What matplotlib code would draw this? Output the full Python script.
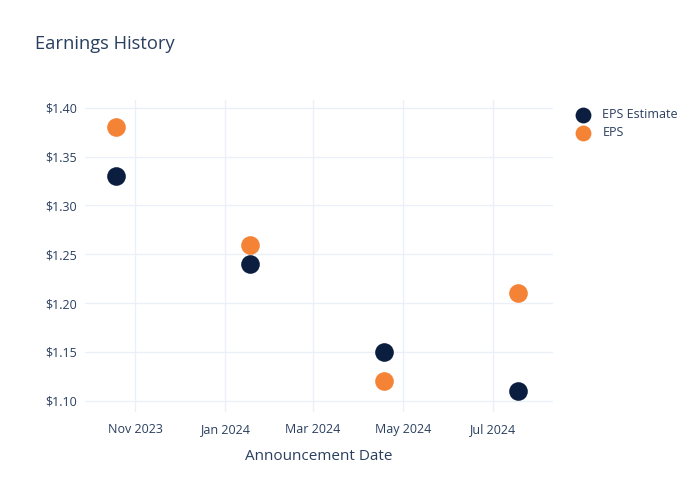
import datetime as dt
import matplotlib
matplotlib.use('Agg')
from matplotlib import pyplot as plt
import matplotlib.dates as mdates
from matplotlib.ticker import FuncFormatter

# data
dates = [dt.date(2023, 10, 19), dt.date(2024, 1, 18), dt.date(2024, 4, 18), dt.date(2024, 7, 18)]
eps_estimate = [1.33, 1.24, 1.15, 1.11]
eps_actual = [1.38, 1.26, 1.12, 1.21]
tick_dates = [dt.date(2023, 11, 1), dt.date(2024, 1, 1), dt.date(2024, 3, 1), dt.date(2024, 5, 1), dt.date(2024, 7, 1)]
y_ticks = [1.10, 1.15, 1.20, 1.25, 1.30, 1.35, 1.40]

plt.rcParams['font.family'] = ['Open Sans', 'DejaVu Sans']
txt = '#2a3f5f'
grid_c = '#ebf0f8'

fig = plt.figure(figsize=(7, 5), dpi=100)
ax = fig.add_axes([85/700, 88/500, 468/700, 312/500])

ax.scatter(dates, eps_estimate, s=180, color='#0c1e40', label='EPS Estimate', zorder=3, linewidths=0)
ax.scatter(dates, eps_actual, s=180, color='#f58335', label='EPS', zorder=3, linewidths=0)

ax.set_xlim(dt.date(2023, 9, 28), dt.date(2024, 8, 11))
ax.set_ylim(1.0885, 1.408)
ax.set_xticks(tick_dates)
ax.xaxis.set_major_formatter(mdates.DateFormatter('%b %Y'))
ax.set_yticks(y_ticks)
ax.yaxis.set_major_formatter(FuncFormatter(lambda v, p: '$%.2f' % v))
ax.grid(True, color=grid_c, linewidth=1)
ax.set_axisbelow(True)
for s in ax.spines.values():
    s.set_visible(False)
ax.tick_params(axis='x', length=0, pad=8, labelsize=9, colors=txt)
ax.tick_params(axis='y', length=0, pad=6, labelsize=9, colors=txt)
ax.set_xlabel('Announcement Date', fontsize=11, color=txt, labelpad=9)

fig.text(35/700, 1 - 44/500, 'Earnings History', fontsize=13.2, color=txt, va='center', ha='left')

leg = fig.legend(loc='upper left', bbox_to_anchor=(565/700, 1 - 103/500), frameon=False,
                 fontsize=9, labelcolor=txt, handletextpad=0.6, labelspacing=0.4,
                 markerscale=0.85, borderaxespad=0)

fig.savefig('out.png', dpi=100)
